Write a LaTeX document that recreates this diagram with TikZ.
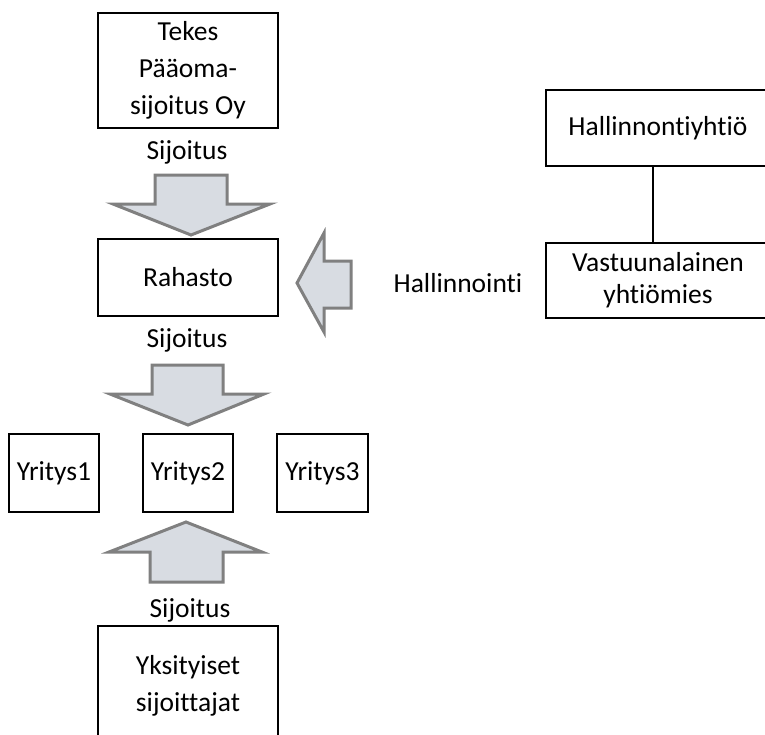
\documentclass[tikz,border=0pt]{standalone}
\usepackage{fontspec}
\setmainfont{Carlito}[Ligatures={NoCommon}]
\definecolor{arrowfill}{RGB}{216,220,226}
\definecolor{arrowline}{RGB}{128,128,128}
\tikzset{
  box/.style={draw, line width=2pt, align=center, inner sep=0pt},
  lbl/.style={inner sep=0pt},
  bigarrow/.style={draw=arrowline, fill=arrowfill, line width=3pt, line join=miter},
}
\begin{document}
\begin{tikzpicture}[x=1pt, y=-1pt, font=\fontsize{27.5}{37}\selectfont]

\useasboundingbox (0,0) rectangle (765,734);

\node[box, minimum width=180, minimum height=115] (tekes) at (188,70.5) {Tekes\\Pääoma-\\sijoitus Oy};
\node[lbl] (sij-a) at (187,152) {Sijoitus};

\node[box, minimum width=180, minimum height=77] (rahasto) at (188,277.5) {Rahasto};
\node[lbl] (sij-b) at (187,340) {Sijoitus};

\node[box, minimum width=90, minimum height=78] (yr1) at (54,473) {Yritys1};
\node[box, minimum width=90, minimum height=78] (yr2) at (188,473) {Yritys2};
\node[box, minimum width=91, minimum height=78] (yr3) at (322.5,473) {Yritys3};

\node[lbl] (sij-c) at (190,610) {Sijoitus};
\node[box, minimum width=180, minimum height=120] (yks) at (188,686) {Yksityiset\\sijoittajat};

\node[box, minimum width=224, minimum height=76] (hall) at (658,128) {Hallinnontiyhtiö};
\node[box, minimum width=224, minimum height=75, font=\fontsize{27.5}{32}\selectfont] (vast) at (658,280.5) {Vastuunalainen\\yhtiömies};
\node[lbl] (hallinnointi) at (458,283) {Hallinnointi};

\draw[line width=2.5pt] ([xshift=-5pt]hall.south) -- ([xshift=-5pt]hall.south |- vast.north);

% block arrows
\draw[bigarrow] (155,175) -- (227,175) -- (227,204) -- (270,204) -- (191,235) -- (113,204) -- (155,204) -- cycle;
\draw[bigarrow] (152,365) -- (223,365) -- (223,394) -- (264,394) -- (188,425) -- (110,394) -- (152,394) -- cycle;
\draw[bigarrow] (150,582) -- (223,582) -- (223,552) -- (262,552) -- (186,522) -- (109,552) -- (150,552) -- cycle;
\draw[bigarrow] (351,261) -- (351,308) -- (324,308) -- (324,332) -- (297,283) -- (324,233) -- (324,261) -- cycle;

\end{tikzpicture}
\end{document}
